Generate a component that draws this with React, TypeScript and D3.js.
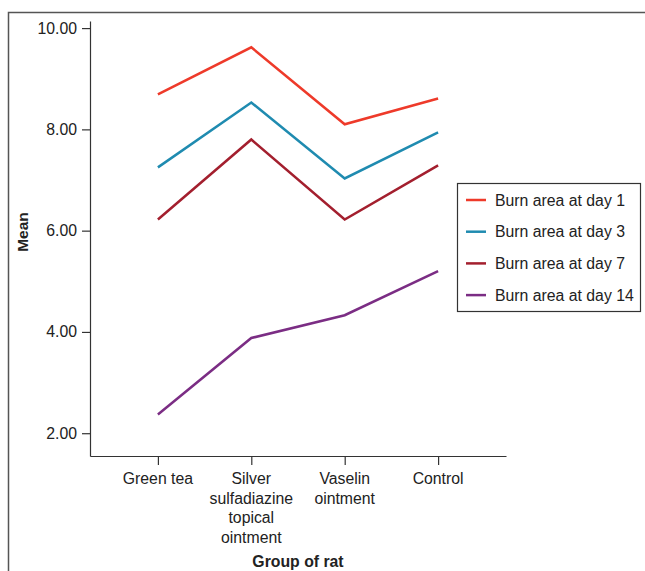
import React, { useEffect, useRef } from "react";
import * as d3 from "d3";

const categories = ["Green tea", "Silver sulfadiazine topical ointment", "Vaselin ointment", "Control"];
const categoryLines = [["Green tea"], ["Silver", "sulfadiazine", "topical", "ointment"], ["Vaselin", "ointment"], ["Control"]];
const seriesNames = ["Burn area at day 1", "Burn area at day 3", "Burn area at day 7", "Burn area at day 14"];
const day1 = [8.69, 9.62, 8.1, 8.61];
const day3 = [7.25, 8.53, 7.03, 7.94];
const day7 = [6.22, 7.8, 6.22, 7.29];
const day14 = [2.37, 3.88, 4.33, 5.2];
const seriesColors = ["#ee3a2a", "#1f8bb0", "#a31f2e", "#7b2d84"];
const yTicks = [2, 4, 6, 8, 10];

export default function App() {
  const ref = useRef<SVGSVGElement>(null);
  useEffect(() => {
    const svg = d3.select(ref.current);
    svg.selectAll("*").remove();
    const font = "'Liberation Sans', Arial, sans-serif";
    const fs = 15.8;
    const allSeries = [day1, day3, day7, day14];

    const x = d3.scalePoint<string>().domain(categories).range([90, 506]).padding(0.727);
    const y = d3.scaleLinear().domain([1.55, 10.14]).range([456, 21]);

    // frame
    svg.append("path").attr("d", "M8.5,571 V12.5 H645").attr("fill", "none")
      .attr("stroke", "#555").attr("stroke-width", 1.5);

    // y axis
    const yAxis = svg.append("g").attr("transform", "translate(90,0)")
      .call(d3.axisLeft(y).tickValues(yTicks).tickFormat(d3.format(".2f")).tickSize(8).tickSizeOuter(0));
    yAxis.select(".domain").attr("stroke", "#333").attr("stroke-width", 1.2);
    yAxis.selectAll(".tick line").attr("stroke", "#333").attr("stroke-width", 1.2);
    yAxis.selectAll(".tick text").attr("font-family", font).attr("font-size", fs).attr("fill", "#222").attr("x", -13);

    // x axis
    const xAxis = svg.append("g").attr("transform", "translate(0,456)")
      .call(d3.axisBottom(x).tickSize(9).tickSizeOuter(0).tickFormat(() => ""));
    xAxis.select(".domain").attr("stroke", "#333").attr("stroke-width", 1.2);
    xAxis.selectAll(".tick line").attr("stroke", "#333").attr("stroke-width", 1.2);

    categories.forEach((c, i) => {
      const t = svg.append("text").attr("x", x(c)!).attr("y", 484)
        .attr("text-anchor", "middle").attr("font-family", font).attr("font-size", fs).attr("fill", "#222");
      categoryLines[i].forEach((ln, j) => {
        t.append("tspan").attr("x", x(c)!).attr("dy", j === 0 ? 0 : 19.5).text(ln);
      });
    });

    // axis titles
    svg.append("text").attr("x", 298).attr("y", 567).attr("text-anchor", "middle")
      .attr("font-family", font).attr("font-size", 15.8).attr("font-weight", "bold").attr("fill", "#222")
      .text("Group of rat");
    svg.append("text").attr("transform", "translate(28,232) rotate(-90)").attr("text-anchor", "middle")
      .attr("font-family", font).attr("font-size", 15.5).attr("font-weight", "bold").attr("fill", "#222")
      .text("Mean");

    // lines
    const line = d3.line<number>().x((_, i) => x(categories[i])!).y((d) => y(d));
    allSeries.forEach((s, k) => {
      svg.append("path").attr("d", line(s)!).attr("fill", "none")
        .attr("stroke", seriesColors[k]).attr("stroke-width", 2.5).attr("stroke-linejoin", "miter");
    });

    // legend
    const lg = svg.append("g");
    lg.append("rect").attr("x", 457.5).attr("y", 183.5).attr("width", 183).attr("height", 128)
      .attr("fill", "white").attr("stroke", "#333").attr("stroke-width", 1.2);
    seriesNames.forEach((n, k) => {
      const cy = 200 + k * 31.7;
      lg.append("line").attr("x1", 466).attr("x2", 486).attr("y1", cy).attr("y2", cy)
        .attr("stroke", seriesColors[k]).attr("stroke-width", 2.5);
      lg.append("text").attr("x", 495).attr("y", cy + 5.5).attr("font-family", font).attr("font-size", fs)
        .attr("fill", "#222").text(n);
    });
  }, []);
  return (
    <svg ref={ref} width={645} height={571}
      style={{ position: "absolute", left: 0, top: 0, background: "white" }} />
  );
}
